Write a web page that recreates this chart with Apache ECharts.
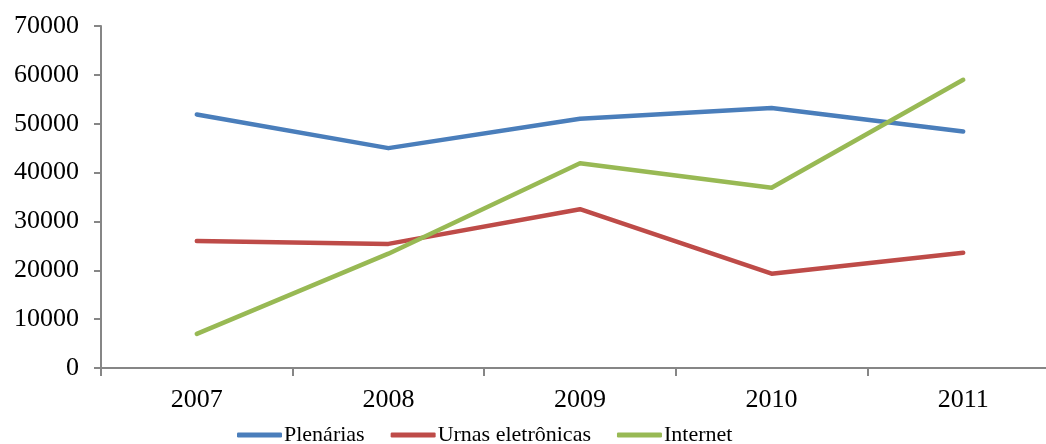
<!DOCTYPE html>
<html><head><meta charset="utf-8">
<script src="https://cdn.jsdelivr.net/npm/echarts@6/dist/echarts.min.js"></script>
<style>html,body{margin:0;padding:0;background:#fff}#c{width:1046px;height:444px}</style>
</head><body><div id="c"></div>
<script>
const categories = ['2007', '2008', '2009', '2010', '2011'];
const plenarias = [51900, 45000, 51000, 53200, 48400];
const urnas = [26000, 25400, 32500, 19300, 23600];
const internet = [7000, 23400, 41900, 36900, 59000];
const seriesNames = ['Plenárias', 'Urnas eletrônicas', 'Internet'];
const colors = ['#4A7EBB', '#BE4B48', '#98B954'];

const font = 'Liberation Serif';
const chart = echarts.init(document.getElementById('c'), null, {renderer: 'canvas'});
const mk = (name, data, color) => ({
  name, type: 'line', data, symbol: 'none', smooth: false,
  lineStyle: {color, width: 4.5, cap: 'round', join: 'round'},
  itemStyle: {color}
});
chart.setOption({
  animation: false,
  backgroundColor: '#fff',
  grid: {left: 101, top: 26, width: 958, height: 342, containLabel: false, outerBoundsMode: 'none'},
  xAxis: {
    type: 'category', data: categories, boundaryGap: true,
    axisLine: {lineStyle: {color: '#868686', width: 2}},
    axisTick: {show: true, length: 8, lineStyle: {color: '#868686', width: 2}},
    axisLabel: {color: '#000', fontFamily: font, fontSize: 26, margin: 19},
    splitLine: {show: false}
  },
  yAxis: {
    type: 'value', min: 0, max: 70000, interval: 10000,
    axisLine: {show: true, lineStyle: {color: '#868686', width: 2}},
    axisTick: {show: true, length: 7, lineStyle: {color: '#868686', width: 2}},
    axisLabel: {color: '#000', fontFamily: font, fontSize: 26, margin: 22, formatter: v => String(v)},
    splitLine: {show: false}
  },
  legend: {
    data: seriesNames, left: 232, top: 419, icon: 'roundRect',
    itemWidth: 45, itemHeight: 5, itemGap: 26,
    textStyle: {color: '#000', fontFamily: font, fontSize: 22, padding: [0, 0, 0, -3]}
  },
  series: [mk(seriesNames[0], plenarias, colors[0]), mk(seriesNames[1], urnas, colors[1]), mk(seriesNames[2], internet, colors[2])]
});
</script></body></html>
